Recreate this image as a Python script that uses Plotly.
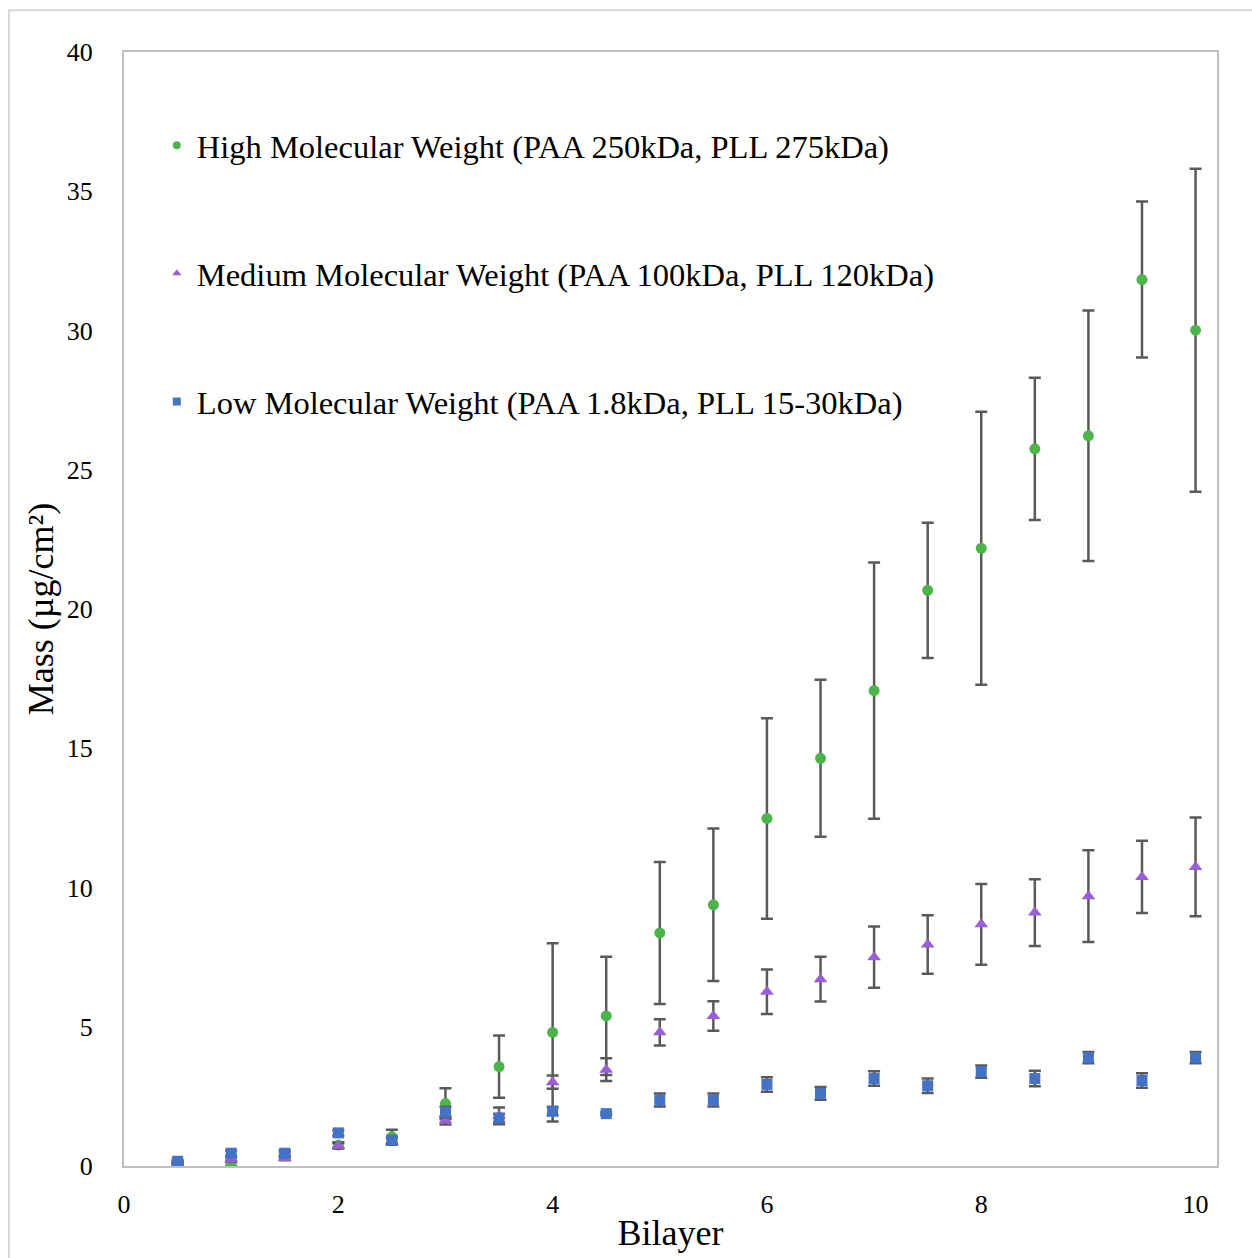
import plotly.graph_objects as go

# Bilayer count (x) and deposited mass per series
bilayer = [0.5, 1, 1.5, 2, 2.5, 3, 3.5, 4, 4.5, 5,
           5.5, 6, 6.5, 7, 7.5, 8, 8.5, 9, 9.5, 10]

high_mass = [0.12, 0.10, 0.40, 0.75, 1.05, 2.24, 3.57, 4.80, 5.39, 8.37,
             9.38, 12.48, 14.64, 17.07, 20.67, 22.18, 25.75, 26.22, 31.83, 30.01]
high_err = [0.05, 0.10, 0.10, 0.10, 0.25, 0.55, 1.12, 3.20, 2.12, 2.55,
            2.74, 3.60, 2.82, 4.60, 2.43, 4.90, 2.55, 4.50, 2.80, 5.80]

medium_mass = [0.10, 0.23, 0.29, 0.73, 0.88, 1.64, 1.80, 3.01, 3.46, 4.80,
               5.39, 6.26, 6.71, 7.50, 7.95, 8.68, 9.10, 9.69, 10.38, 10.74]
medium_err = [0.05, 0.08, 0.08, 0.10, 0.12, 0.15, 0.30, 0.24, 0.41, 0.47,
              0.53, 0.80, 0.80, 1.10, 1.05, 1.45, 1.20, 1.65, 1.30, 1.77]

low_mass = [0.17, 0.46, 0.46, 1.19, 0.93, 1.94, 1.72, 1.97, 1.88, 2.37,
            2.37, 2.93, 2.61, 3.14, 2.88, 3.39, 3.14, 3.89, 3.07, 3.89]
low_err = [0.05, 0.10, 0.10, 0.10, 0.12, 0.19, 0.15, 0.15, 0.05, 0.23,
           0.23, 0.26, 0.23, 0.26, 0.26, 0.22, 0.28, 0.20, 0.26, 0.20]

series_names = [
    "High Molecular Weight (PAA 250kDa, PLL 275kDa)",
    "Medium Molecular Weight (PAA 100kDa, PLL 120kDa)",
    "Low Molecular Weight (PAA 1.8kDa, PLL 15-30kDa)",
]

x_ticks = [0, 2, 4, 6, 8, 10]
y_ticks = [0, 5, 10, 15, 20, 25, 30, 35, 40]

FONT = "Liberation Serif, Times New Roman, serif"
ERR_COLOR = "#595959"
colors = ["#4CB44A", "#9A5FD6", "#4472C4"]
symbols = ["circle", "triangle-up", "square"]
sizes = [11, 12, 11]

fig = go.Figure()

data = [(high_mass, high_err), (medium_mass, medium_err), (low_mass, low_err)]
for (vals, errs), col, sym, sz in zip(data, colors, symbols, sizes):
    fig.add_trace(go.Scatter(
        x=bilayer, y=vals, mode="markers",
        marker=dict(color=col, symbol=sym, size=sz, line=dict(width=0)),
        error_y=dict(type="data", array=errs, visible=True,
                     color=ERR_COLOR, thickness=2.5, width=6),
        showlegend=False,
    ))

# Legend entries, each in its own legend box placed inside the plot area
legend_ids = ["legend", "legend2", "legend3"]
legend_y = [0.916, 0.801, 0.686]
for name, col, sym, lid in zip(series_names, colors, symbols, legend_ids):
    fig.add_trace(go.Scatter(
        x=[None], y=[None], mode="markers", name=name,
        marker=dict(color=col, symbol=sym, size=8),
        legend=lid, showlegend=True,
    ))

legend_style = dict(
    x=0.03, xanchor="left", yanchor="middle",
    bgcolor="rgba(0,0,0,0)", borderwidth=0,
    font=dict(family=FONT, size=32.5, color="#000000"),
)

fig.update_layout(
    width=1252, height=1258,
    margin=dict(l=124, r=35, t=52, b=86),
    paper_bgcolor="white", plot_bgcolor="white",
    font=dict(family=FONT, color="#000000"),
    legend=dict(y=legend_y[0], **legend_style),
    legend2=dict(y=legend_y[1], **legend_style),
    legend3=dict(y=legend_y[2], **legend_style),
    xaxis=dict(
        range=[0, 10.2], tickvals=x_ticks, ticktext=[str(v) for v in x_ticks],
        showgrid=False, zeroline=False, showline=True, mirror=True,
        linecolor="#BFBFBF", linewidth=2, ticks="",
        tickfont=dict(family=FONT, size=26, color="#000000"),
        ticklabelstandoff=14,
        title=dict(text="Bilayer", font=dict(family=FONT, size=36, color="#000000"),
                   standoff=2),
    ),
    yaxis=dict(
        range=[0, 40], tickvals=y_ticks, ticktext=[str(v) for v in y_ticks],
        showgrid=False, zeroline=False, showline=True, mirror=True,
        linecolor="#BFBFBF", linewidth=2, ticks="",
        tickfont=dict(family=FONT, size=26, color="#000000"),
        ticklabelstandoff=24,
        title=dict(text="Mass (µg/cm²)", font=dict(family=FONT, size=36, color="#000000"),
                   standoff=2),
    ),
    shapes=[dict(
        type="rect", xref="paper", yref="paper",
        x0=-0.1052, x1=1.06, y0=-0.12, y1=1.0375,
        line=dict(color="#D9D9D9", width=2), fillcolor="rgba(0,0,0,0)",
        layer="below",
    )],
)

fig.write_html("out.html")
